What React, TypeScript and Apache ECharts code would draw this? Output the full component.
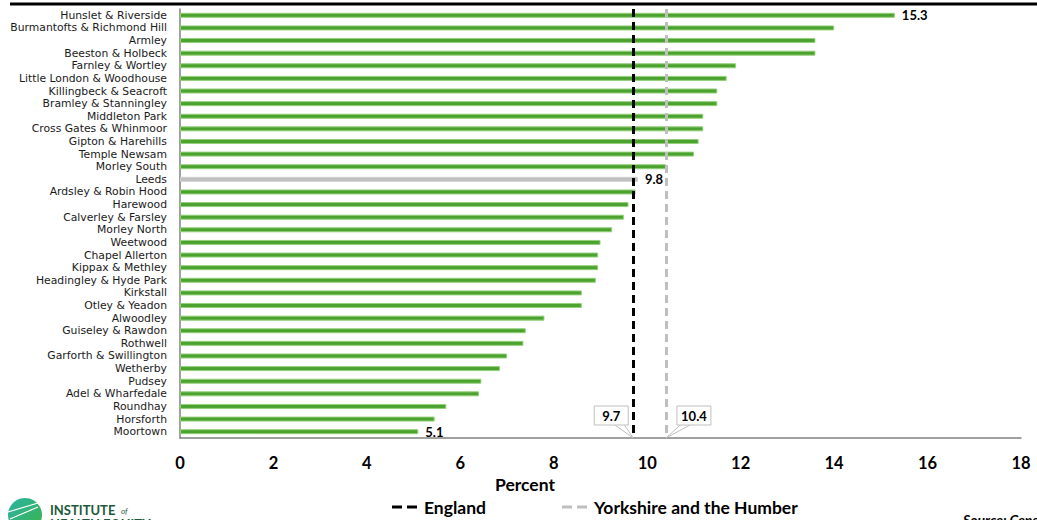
import React, { useEffect, useRef } from "react";
import * as echarts from "echarts";

const categories = [
  "Hunslet & Riverside",
  "Burmantofts & Richmond Hill",
  "Armley",
  "Beeston & Holbeck",
  "Farnley & Wortley",
  "Little London & Woodhouse",
  "Killingbeck & Seacroft",
  "Bramley & Stanningley",
  "Middleton Park",
  "Cross Gates & Whinmoor",
  "Gipton & Harehills",
  "Temple Newsam",
  "Morley South",
  "Leeds",
  "Ardsley & Robin Hood",
  "Harewood",
  "Calverley & Farsley",
  "Morley North",
  "Weetwood",
  "Chapel Allerton",
  "Kippax & Methley",
  "Headingley & Hyde Park",
  "Kirkstall",
  "Otley & Yeadon",
  "Alwoodley",
  "Guiseley & Rawdon",
  "Rothwell",
  "Garforth & Swillington",
  "Wetherby",
  "Pudsey",
  "Adel & Wharfedale",
  "Roundhay",
  "Horsforth",
  "Moortown",
];

const values = [
  15.3, 14.0, 13.6, 13.6, 11.9, 11.7, 11.5, 11.5, 11.2, 11.2, 11.1, 11.0, 10.4,
  9.8, 9.75, 9.6, 9.5, 9.25, 9.0, 8.95, 8.95, 8.9, 8.6, 8.6, 7.8, 7.4, 7.35,
  7.0, 6.85, 6.45, 6.4, 5.7, 5.45, 5.1,
];

const labelledCategories = ["Hunslet & Riverside", "Leeds", "Moortown"];
const highlightCategory = "Leeds";

const benchmarkNames = ["England", "Yorkshire and the Humber"];
const benchmarkValues = [9.7, 10.4];
const benchmarkColors = ["#000000", "#bfbfbf"];

const xTicks = { min: 0, max: 18, interval: 2 };

const GRID = { left: 180, right: 16, top: 9, bottom: 82 };
const W = 1037;
const H = 520;

export default function App() {
  const ref = useRef<HTMLDivElement>(null);

  useEffect(() => {
    document.body.style.margin = "0";
    if (!ref.current) return;
    const chart = echarts.init(ref.current, undefined, { renderer: "svg" });

    const barData = values.map((v, i) => {
      const cat = categories[i];
      const item: any = { value: v };
      if (cat === highlightCategory) {
        item.itemStyle = { color: "#bfbfbf", borderColor: "#d0d0d0" };
      }
      if (labelledCategories.includes(cat)) {
        item.label = {
          show: true,
          position: "right",
          distance: 7,
          formatter: (p: any) => p.value.toFixed(1),
          fontFamily: "Lato",
          fontWeight: "bold",
          fontSize: 13,
          color: "#000",
        };
      }
      return item;
    });

    const dashIcon = "path://M0,0H10V3H0Z M15,0H25V3H15Z";

    const option: any = {
      animation: false,
      grid: { ...GRID, containLabel: false },
      xAxis: {
        type: "value",
        min: xTicks.min,
        max: xTicks.max,
        interval: xTicks.interval,
        axisLine: { show: true, lineStyle: { color: "#808080", width: 1.5 } },
        axisTick: { show: false },
        splitLine: { show: false },
        axisLabel: {
          margin: 16,
          fontFamily: "Lato",
          fontWeight: "bold",
          fontSize: 16.5,
          color: "#000",
        },
      },
      yAxis: {
        type: "category",
        data: categories,
        inverse: true,
        axisLine: { show: true, lineStyle: { color: "#808080", width: 1.5 } },
        axisTick: { show: false },
        axisLabel: {
          margin: 13,
          fontFamily: "DejaVu Sans",
          fontSize: 10.8,
          lineHeight: 12,
          color: "#1a1a1a",
          interval: 0,
        },
      },
      legend: {
        left: 387,
        top: 493,
        itemWidth: 25,
        itemHeight: 3,
        itemGap: 76,
        icon: dashIcon,
        data: benchmarkNames,
        textStyle: {
          fontFamily: "Lato",
          fontWeight: "bold",
          fontSize: 17.5,
          color: "#000",
          padding: [0, 0, 0, 2],
        },
      },
      series: [
        {
          type: "bar",
          data: barData,
          barWidth: 5,
          itemStyle: { color: "#4ca22f", borderColor: "#93d07a", borderWidth: 1 },
          z: 2,
        },
        ...benchmarkNames.map((name, i) => ({
          name,
          type: "line",
          data: [],
          symbol: "none",
          lineStyle: { color: benchmarkColors[i], width: 3, type: [8, 5] },
          itemStyle: { color: benchmarkColors[i] },
          markLine: {
            silent: true,
            symbol: "none",
            label: { show: false },
            lineStyle: { color: benchmarkColors[i], width: 3, type: [8, 5] },
            data: [{ xAxis: benchmarkValues[i] }],
          },
          z: 3,
        })),
      ],
    };

    chart.setOption(option);

    const axisY = H - GRID.bottom;
    const graphics: any[] = [];
    benchmarkValues.forEach((v, i) => {
      const px = chart.convertToPixel({ xAxisIndex: 0 }, v) as number;
      const boxW = 34;
      const boxH = 19;
      const boxTop = axisY - 32;
      const boxLeft = i === 0 ? px - 39 : px + 11;
      const baseA = i === 0 ? boxLeft + 20 : boxLeft + 4;
      const baseB = i === 0 ? boxLeft + 30 : boxLeft + 14;
      graphics.push({
        type: "polygon",
        shape: {
          points: [
            [baseA, boxTop + boxH - 0.5],
            [baseB, boxTop + boxH - 0.5],
            [px, axisY],
          ],
        },
        style: { fill: "#ffffff", stroke: "#bfbfbf", lineWidth: 1 },
        z: 10,
      });
      graphics.push({
        type: "rect",
        shape: { x: boxLeft, y: boxTop, width: boxW, height: boxH },
        style: { fill: "#ffffff", stroke: "#bfbfbf", lineWidth: 1 },
        z: 11,
      });
      graphics.push({
        type: "text",
        x: boxLeft + boxW / 2,
        y: boxTop + boxH / 2,
        style: {
          text: v.toFixed(1),
          fontFamily: "Lato",
          fontWeight: "bold",
          fontSize: 13,
          fill: "#000",
          align: "center",
          verticalAlign: "middle",
        },
        z: 12,
      });
    });

    graphics.push(
      {
        type: "line",
        shape: { x1: 10, y1: 4, x2: W, y2: 4 },
        style: { stroke: "#000", lineWidth: 3 },
      },
      {
        type: "text",
        x: 525,
        y: 484,
        style: {
          text: "Percent",
          fontFamily: "Lato",
          fontWeight: "bold",
          fontSize: 17.5,
          fill: "#000",
          align: "center",
          verticalAlign: "middle",
        },
      },
      {
        type: "text",
        x: 963,
        y: 519,
        style: {
          text: "Source: Census",
          fontFamily: "Lato",
          fontWeight: "bold",
          fontStyle: "italic",
          fontSize: 14,
          fill: "#000",
          align: "left",
          verticalAlign: "middle",
        },
      },
      {
        type: "circle",
        shape: { cx: 25, cy: 515, r: 17 },
        style: {
          fill: new echarts.graphic.LinearGradient(0, 0, 1, 1, [
            { offset: 0, color: "#2bb3a3" },
            { offset: 1, color: "#3cb44a" },
          ]),
        },
      },
      {
        type: "line",
        shape: { x1: 8, y1: 512, x2: 38, y2: 503 },
        style: { stroke: "#fff", lineWidth: 1.2 },
      },
      {
        type: "line",
        shape: { x1: 10, y1: 519, x2: 38, y2: 507 },
        style: { stroke: "#fff", lineWidth: 1.2 },
      },
      {
        type: "text",
        x: 50,
        y: 510,
        style: {
          text: "INSTITUTE",
          fontFamily: "Lato",
          fontWeight: "bold",
          fontSize: 13,
          fill: "#1e5a3a",
          verticalAlign: "middle",
        },
      },
      {
        type: "text",
        x: 121,
        y: 511,
        style: {
          text: "of",
          fontFamily: "Lato",
          fontStyle: "italic",
          fontSize: 8,
          fill: "#1e5a3a",
          verticalAlign: "middle",
        },
      },
      {
        type: "text",
        x: 50,
        y: 524,
        style: {
          text: "HEALTH EQUITY",
          fontFamily: "Lato",
          fontWeight: "bold",
          fontSize: 13,
          fill: "#1e5a3a",
          verticalAlign: "middle",
        },
      }
    );

    chart.setOption({ graphic: graphics });

    return () => chart.dispose();
  }, []);

  return <div ref={ref} style={{ width: W, height: H }} />;
}
